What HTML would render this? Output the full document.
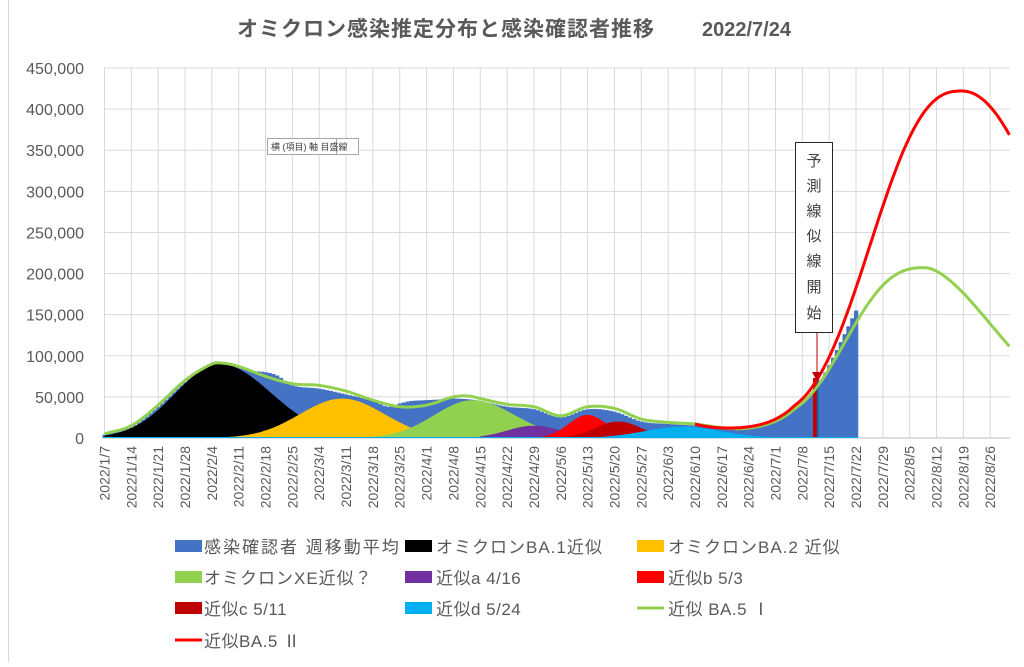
<!DOCTYPE html>
<html><head><meta charset="utf-8">
<style>
html,body{margin:0;padding:0;background:#fff;}
body{width:1024px;height:662px;overflow:hidden;}
svg text{font-family:"Liberation Sans","Noto Sans CJK JP",sans-serif;}
</style></head>
<body>
<svg id="s" width="1024" height="662" viewBox="0 0 1024 662" xmlns="http://www.w3.org/2000/svg">
<rect x="0" y="0" width="1024" height="662" fill="#fff"/>
<line x1="8.5" y1="0" x2="8.5" y2="662" stroke="#d9d9d9"/>
<text x="237" y="36" font-size="21" font-weight="bold" fill="#595959" letter-spacing="1">オミクロン感染推定分布と感染確認者推移</text>
<text x="702" y="36" font-size="20" font-weight="bold" fill="#595959">2022/7/24</text>
<g id="grid"></g>
<g id="bars"></g>
<g id="areas"></g>
<g id="lines"></g>
<g id="labels"></g>
<rect x="267.5" y="138.5" width="91" height="16" fill="#fff" stroke="#a6a6a6"/>
<line x1="336.5" y1="138.5" x2="336.5" y2="154.5" stroke="#a6a6a6"/>
<text x="271" y="150" font-size="9" fill="#404040">横 (項目) 軸 目盛線</text>
<rect x="795.5" y="142.5" width="37" height="190" fill="#fff" stroke="#262626"/>
<g font-size="15" fill="#404040" text-anchor="middle">
<text x="814" y="166">予</text><text x="814" y="191">測</text><text x="814" y="216">線</text>
<text x="814" y="241">似</text><text x="814" y="266">線</text><text x="814" y="292">開</text><text x="814" y="318">始</text>
</g>
<line x1="817" y1="333" x2="817" y2="372" stroke="#c00000" stroke-width="1"/>
<polygon points="812,372 822,372 817,381" fill="#c00000"/>
<g font-size="17" fill="#595959" letter-spacing="1">
<rect x="175" y="540" width="27" height="12" fill="#4472c4"/><text x="204" y="553" letter-spacing="2">感染確認者 週移動平均</text>
<rect x="405" y="540" width="27" height="12" fill="#000"/><text x="436" y="553">オミクロンBA.1近似</text>
<rect x="637" y="540" width="27" height="12" fill="#ffc000"/><text x="668" y="553">オミクロンBA.2 近似</text>
<rect x="175" y="571" width="27" height="12" fill="#92d050"/><text x="204" y="584">オミクロンXE近似？</text>
<rect x="405" y="571" width="27" height="12" fill="#7030a0"/><text x="436" y="584" letter-spacing="0.5">近似a 4/16</text>
<rect x="637" y="571" width="27" height="12" fill="#ff0000"/><text x="668" y="584" letter-spacing="0.5">近似b 5/3</text>
<rect x="175" y="602" width="27" height="12" fill="#c00000"/><text x="204" y="615" letter-spacing="0.5">近似c 5/11</text>
<rect x="405" y="602" width="27" height="12" fill="#00b0f0"/><text x="436" y="615" letter-spacing="0.5">近似d 5/24</text>
<line x1="637" y1="608" x2="664" y2="608" stroke="#92d050" stroke-width="3"/><text x="668" y="615" letter-spacing="0.5">近似 BA.5 <tspan font-family="Noto Sans CJK JP">Ⅰ</tspan></text>
<line x1="175" y1="640" x2="202" y2="640" stroke="#ff0000" stroke-width="3"/><text x="204" y="647" letter-spacing="0.5">近似BA.5 <tspan font-family="Noto Sans CJK JP">Ⅱ</tspan></text>
</g>
</svg>
<script>
(function(){
var NS="http://www.w3.org/2000/svg";
function el(p,tag,a,txt){var e=document.createElementNS(NS,tag);for(var k in a)e.setAttribute(k,a[k]);if(txt!=null)e.textContent=txt;document.getElementById(p).appendChild(e);return e;}
var X0=104.5,PD=26.84/7,Y0=438,SC=370/450;
function X(t){return X0+t*PD;}
function Y(v){return Y0-v*SC;}
for(var i=0;i<=9;i++){var y=Y(i*50);el("grid","line",{x1:104,x2:1010,y1:y,y2:y,stroke:"#d9d9d9","stroke-width":1});
 el("labels","text",{x:84,y:y+6,"font-size":16,fill:"#595959","text-anchor":"end"},(i*50000).toLocaleString("en-US"));}
var months=[31,28,31,30,31,30,31,31];
function dateStr(t){var m=0,d=7+t;while(d>months[m]){d-=months[m];m++;}return "2022/"+(m+1)+"/"+d;}
for(var w=0;w<=33;w++){var x=X(w*7);el("grid","line",{x1:x,x2:x,y1:67,y2:438,stroke:"#d9d9d9","stroke-width":1});
 el("labels","text",{transform:"translate("+(x+5)+",446) rotate(-90)","font-size":14,fill:"#595959","text-anchor":"end"},dateStr(w*7));}
el("grid","line",{x1:104,x2:1010,y1:438,y2:438,stroke:"#bfbfbf","stroke-width":1});
function interp(pts,t){if(t<=pts[0][0])return pts[0][1];for(var i=0;i<pts.length-1;i++){var a=pts[i],b=pts[i+1];if(t<=b[0]){var p0=pts[Math.max(0,i-1)],p3=pts[Math.min(pts.length-1,i+2)];var u=(t-a[0])/(b[0]-a[0]);
 var m1=(b[1]-p0[1])/(b[0]-p0[0])*(b[0]-a[0]),m2=(p3[1]-a[1])/(p3[0]-a[0])*(b[0]-a[0]);
 var u2=u*u,u3=u2*u;return (2*u3-3*u2+1)*a[1]+(u3-2*u2+u)*m1+(-2*u3+3*u2)*b[1]+(u3-u2)*m2;}}return pts[pts.length-1][1];}
function gp(peak,c,al,pl,ar,pr){return function(t){var d=t-c;if(d<0)return peak*Math.exp(-0.5*Math.pow(-d/al,pl));return peak*Math.exp(-0.5*Math.pow(d/ar,pr));};}
var ba5i=gp(207,214,19.6,2.6,19.4,1.7), ba5ii=gp(422,223.5,22.3,2.5,23.3,2.1);
function base(t){return (t<180?10:10*Math.exp(-(t-180)/8))+7*Math.exp(-(t-154)/5);}
function gbase(t){return t<180?10:10*Math.exp(-(t-180)/8);}
var blue=[[0,4],[7,13],[14,38],[21,68],[28,88],[31,90],[35,87],[38,82],[42,80],[45,76],[49,64],[56,60],[63,53],[70,45],[74,38],[77,42],[80,45],[84,46],[88,47],[91,48],[95,47],[98,45],[105,38],[112,35],[119,25],[126,35],[133,32],[140,20],[147,17],[154,15],[161,12]];
for(var t=0;t<=196;t++){var v=t<=161?interp(blue,t):(gbase(t)+ba5i(t)+(t>186?(t-186)*1.5:0));el("bars","rect",{x:X(t)-2,y:Y(v),width:PD+0.4,height:Y0-Y(v),fill:"#4472c4"});}
function ag(p,c,sl,sr,t0,t1){return function(t){if(t<t0||t>t1)return 0;var s=t<c?sl:sr;return p*Math.exp(-(t-c)*(t-c)/(2*s*s));};}
var comps=[[ag(90,30,11.5,13.5,0,80),"#000"],[ag(48,62,11,11,28,95),"#ffc000"],[ag(46,96,10,11,65,130),"#92d050"],[ag(15,112,7,7,98,130),"#7030a0"],[ag(28,126,5,5,112,140),"#ff0000"],[ag(20,134,6,6,118,150),"#c00000"],[ag(14,151,10,10,125,185),"#00b0f0"]];
comps.forEach(function(c){var d="M"+X(0)+","+Y0;for(var t=0;t<=236;t+=0.5){var v=c[0](t);d+=" L"+X(t).toFixed(1)+","+Y(v).toFixed(1);}d+=" L"+X(236)+","+Y0+"Z";el("areas","path",{d:d,fill:c[1]});});
el("areas","rect",{x:813,y:378,width:4,height:60,fill:"#c00000"});
el("areas","rect",{x:817,y:378,width:2,height:60,fill:"#0070c0"});
el("areas","line",{x1:104,x2:858,y1:437.5,y2:437.5,stroke:"#00b0f0","stroke-width":1});
var green=[[0,5],[7,15],[14,40],[21,70],[28,90],[31,91],[35,87],[42,75],[49,66],[56,64],[63,57],[70,46],[77,38],[84,40],[91,50],[95,51],[98,48],[105,41],[112,38],[119,27],[126,38],[133,36],[140,23],[147,19],[154,17],[161,12.5],[165,11.5],[170,11.5]];
function gv(t){return t<165?interp(green,t):gbase(t)+ba5i(t);}
function rv(t){return base(t)+ba5ii(t);}
function line(f,t0,t1,col){var d="";for(var t=t0;t<=t1;t+=0.5){d+=(t==t0?"M":" L")+X(t).toFixed(1)+","+Y(f(t)).toFixed(1);}el("lines","path",{d:d,fill:"none",stroke:col,"stroke-width":3,"stroke-linejoin":"round"});}
line(gv,0,236,"#92d050");
line(rv,154,236,"#ff0000");
})();
</script>
</body></html>
